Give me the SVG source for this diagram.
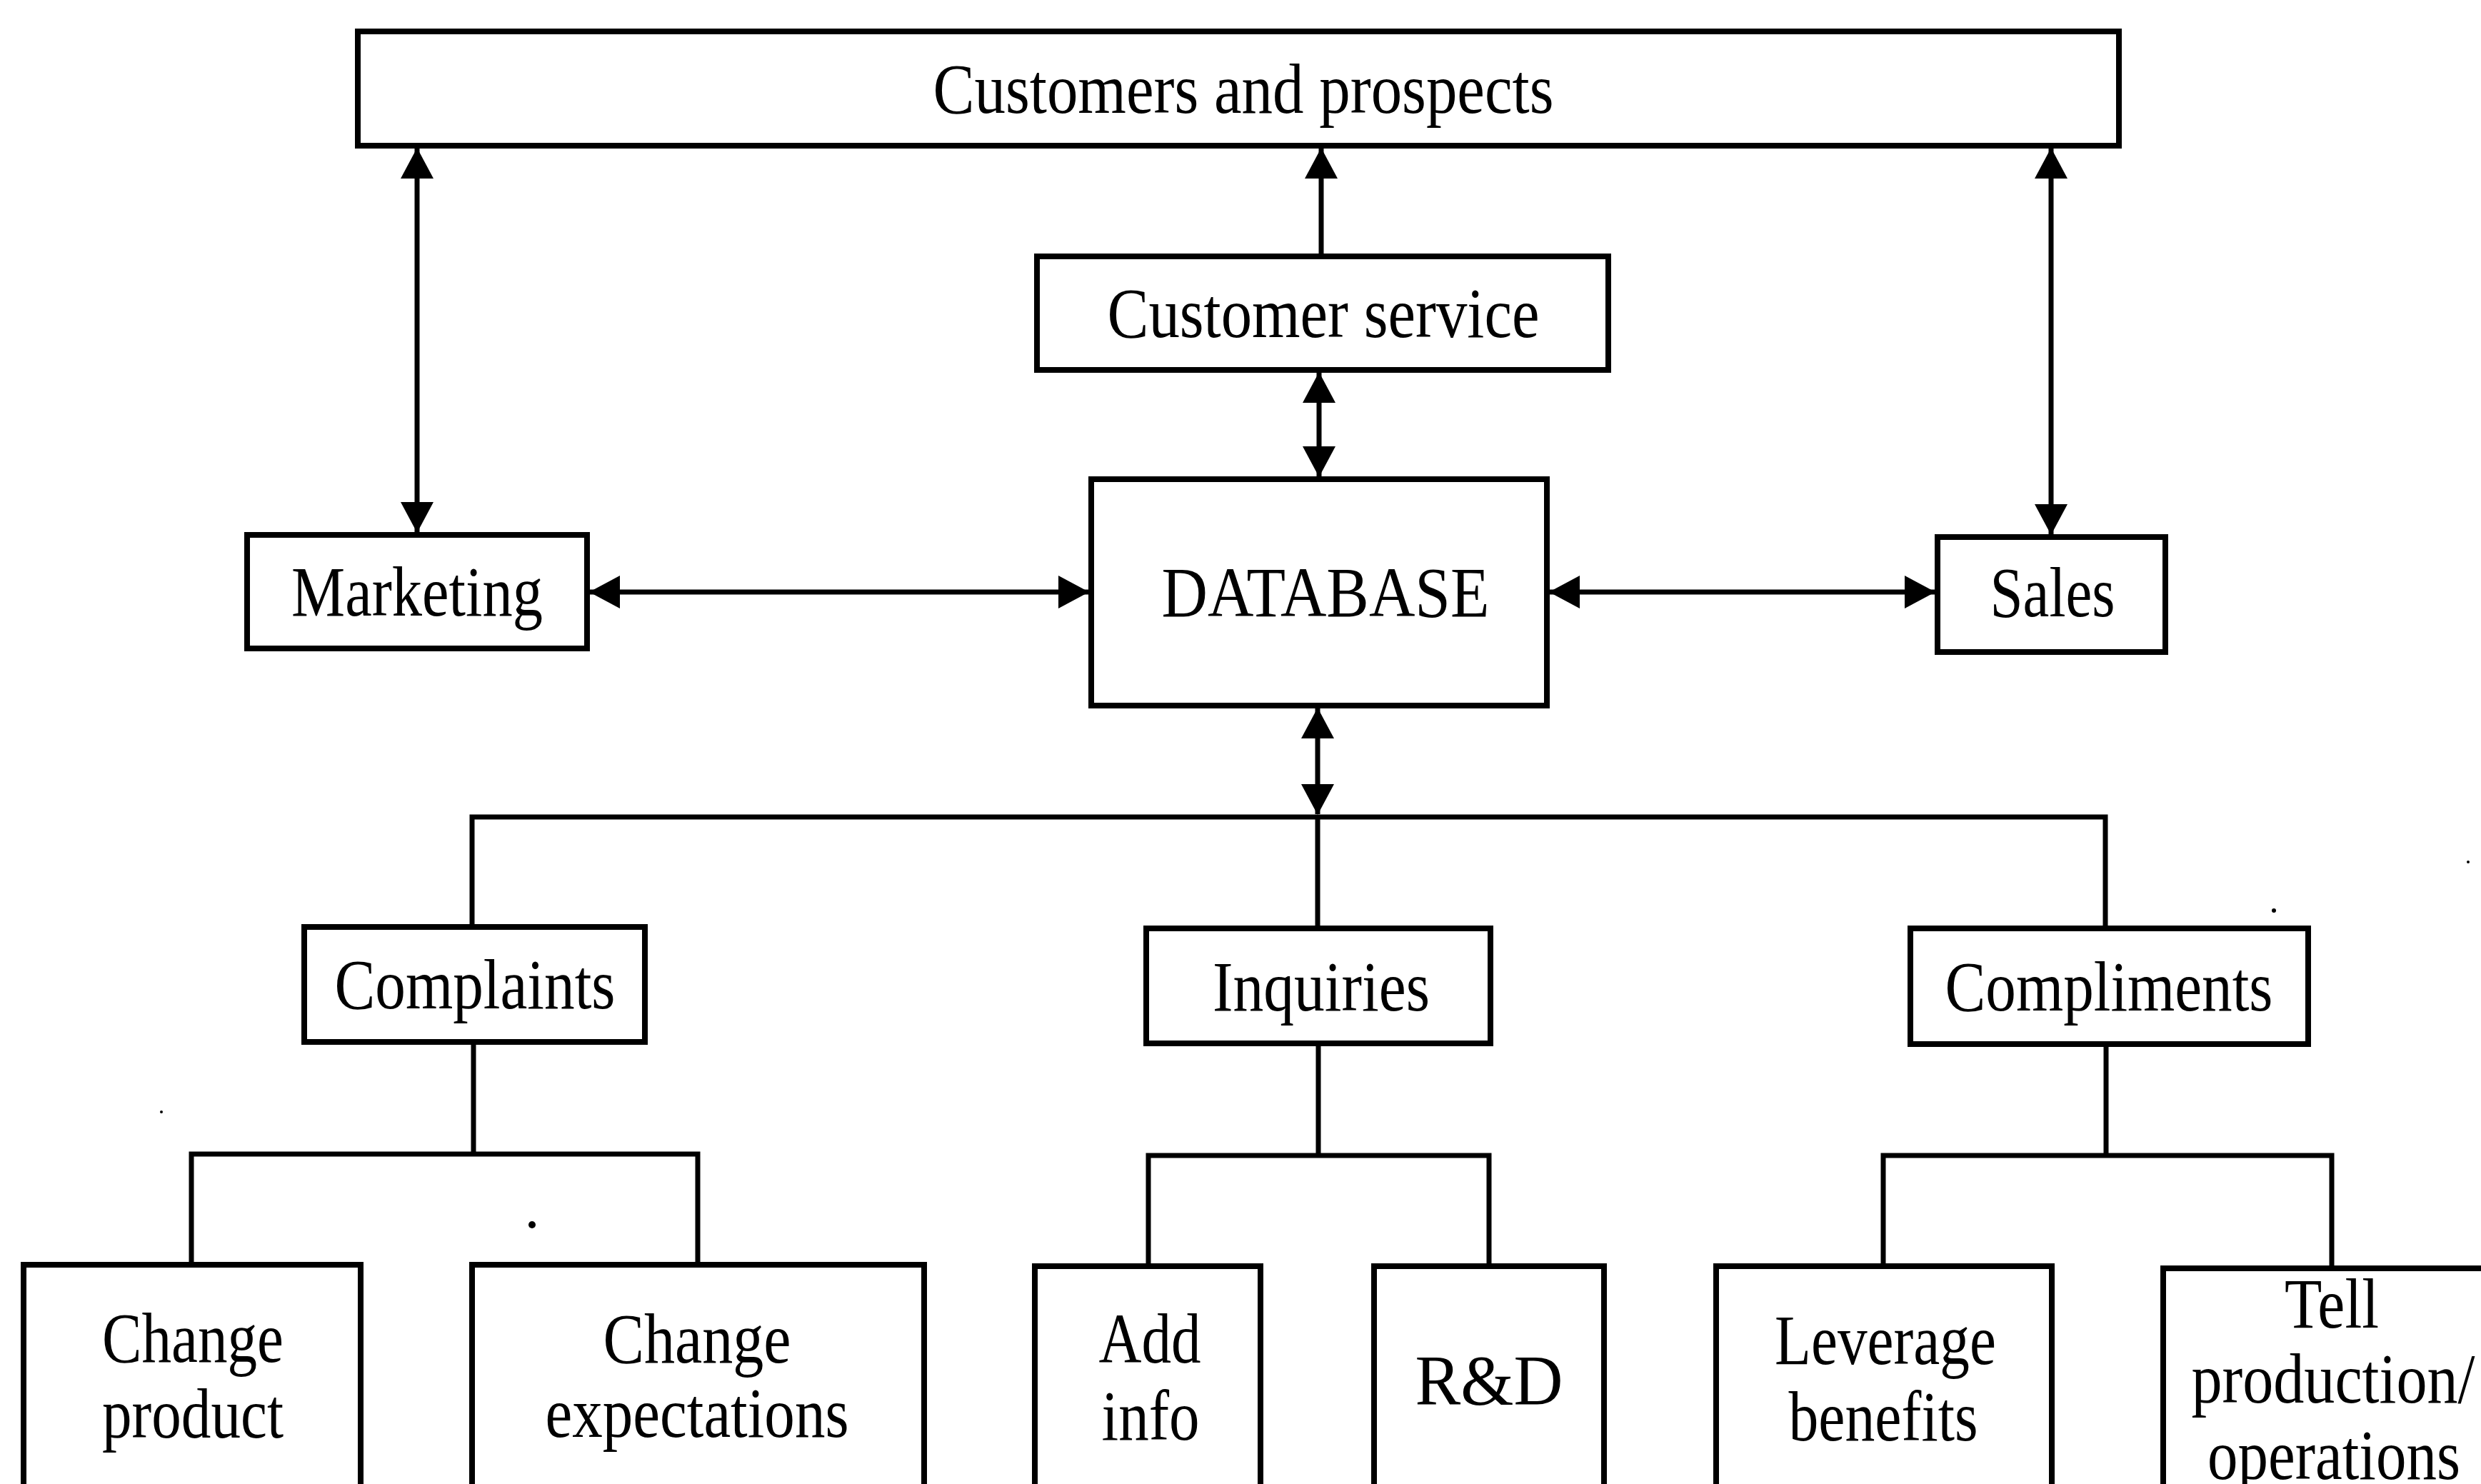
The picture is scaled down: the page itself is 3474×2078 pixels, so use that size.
<svg xmlns="http://www.w3.org/2000/svg" width="3474" height="2078" viewBox="0 0 3474 2078">
<style>
  .box { fill: #ffffff; stroke: #000000; stroke-width: 8; }
  .ln { fill: none; stroke: #000000; stroke-width: 7; }
  .t { font-family: "Liberation Serif", "Times New Roman", serif; font-size: 100px; fill: #000000; text-anchor: middle; }
</style>
<defs>
  <marker id="ah" markerUnits="userSpaceOnUse" markerWidth="46" markerHeight="48" refX="42" refY="24" orient="auto-start-reverse" viewBox="0 0 46 48">
    <path d="M0,1 L43,24 L0,47 Z" fill="#000000"/>
  </marker>
</defs>
<rect width="3474" height="2078" fill="#ffffff"/>

<g id="connectors">
  <line class="ln" x1="584" y1="208" x2="584" y2="745" marker-start="url(#ah)" marker-end="url(#ah)"/>
  <line class="ln" x1="1850" y1="355" x2="1850" y2="208" marker-end="url(#ah)"/>
  <line class="ln" x1="1847" y1="522" x2="1847" y2="667" marker-start="url(#ah)" marker-end="url(#ah)"/>
  <line class="ln" x1="2872" y1="208" x2="2872" y2="748" marker-start="url(#ah)" marker-end="url(#ah)"/>
  <line class="ln" x1="826" y1="829" x2="1524" y2="829" marker-start="url(#ah)" marker-end="url(#ah)"/>
  <line class="ln" x1="2170" y1="829" x2="2709" y2="829" marker-start="url(#ah)" marker-end="url(#ah)"/>
  <line class="ln" x1="1845" y1="992" x2="1845" y2="1140" marker-start="url(#ah)" marker-end="url(#ah)"/>
  <path class="ln" d="M661,1298 V1144 H2948 V1300"/>
  <line class="ln" x1="1845" y1="1144" x2="1845" y2="1300"/>
  <path class="ln" d="M268,1771 V1616 H977 V1771"/>
  <line class="ln" x1="663" y1="1459" x2="663" y2="1616"/>
  <path class="ln" d="M1608,1773 V1618 H2085 V1773"/>
  <line class="ln" x1="1846" y1="1461" x2="1846" y2="1618"/>
  <path class="ln" d="M2637,1773 V1618 H3265 V1776"/>
  <line class="ln" x1="2949" y1="1462" x2="2949" y2="1618"/>
</g>

<g id="customers">
  <rect class="box" x="501" y="44" width="2466" height="160"/>
  <text class="t" x="1741" y="158" textLength="869" lengthAdjust="spacingAndGlyphs">Customers and prospects</text>
</g>
<g id="customer-service">
  <rect class="box" x="1452" y="359" width="800" height="159"/>
  <text class="t" x="1853" y="472" textLength="605" lengthAdjust="spacingAndGlyphs">Customer service</text>
</g>
<g id="database">
  <rect class="box" x="1528" y="671" width="638" height="317"/>
  <text class="t" x="1856" y="863" textLength="459" lengthAdjust="spacingAndGlyphs">DATABASE</text>
</g>
<g id="marketing">
  <rect class="box" x="346" y="749" width="476" height="159"/>
  <text class="t" x="584" y="862" textLength="352" lengthAdjust="spacingAndGlyphs">Marketing</text>
</g>
<g id="sales">
  <rect class="box" x="2713" y="752" width="319" height="161"/>
  <text class="t" x="2874" y="863" textLength="175" lengthAdjust="spacingAndGlyphs">Sales</text>
</g>
<g id="complaints">
  <rect class="box" x="426" y="1298" width="477" height="161"/>
  <text class="t" x="665" y="1412" textLength="393" lengthAdjust="spacingAndGlyphs">Complaints</text>
</g>
<g id="inquiries">
  <rect class="box" x="1605" y="1300" width="482" height="161"/>
  <text class="t" x="1850" y="1415" textLength="304" lengthAdjust="spacingAndGlyphs">Inquiries</text>
</g>
<g id="compliments">
  <rect class="box" x="2675" y="1300" width="557" height="162"/>
  <text class="t" x="2953" y="1415" textLength="459" lengthAdjust="spacingAndGlyphs">Compliments</text>
</g>
<g id="change-product">
  <rect class="box" x="33" y="1771" width="472" height="340"/>
  <text class="t" x="270" y="1907" textLength="254" lengthAdjust="spacingAndGlyphs">Change</text>
  <text class="t" x="270" y="2013" textLength="254" lengthAdjust="spacingAndGlyphs">product</text>
</g>
<g id="change-expectations">
  <rect class="box" x="661" y="1771" width="633" height="340"/>
  <text class="t" x="976" y="1908" textLength="263" lengthAdjust="spacingAndGlyphs">Change</text>
  <text class="t" x="976" y="2012" textLength="425" lengthAdjust="spacingAndGlyphs">expectations</text>
</g>
<g id="add-info">
  <rect class="box" x="1449" y="1773" width="316" height="340"/>
  <text class="t" x="1610" y="1908" textLength="143" lengthAdjust="spacingAndGlyphs">Add</text>
  <text class="t" x="1611" y="2016" textLength="137" lengthAdjust="spacingAndGlyphs">info</text>
</g>
<g id="rnd">
  <rect class="box" x="1924" y="1773" width="322" height="340"/>
  <text class="t" x="2085" y="1966" font-size="112" textLength="207" lengthAdjust="spacingAndGlyphs">R&amp;D</text>
</g>
<g id="leverage-benefits">
  <rect class="box" x="2403" y="1773" width="470" height="340"/>
  <text class="t" x="2640" y="1910" textLength="310" lengthAdjust="spacingAndGlyphs">Leverage</text>
  <text class="t" x="2637" y="2017" textLength="265" lengthAdjust="spacingAndGlyphs">benefits</text>
</g>
<g id="tell-production">
  <rect class="box" x="3029" y="1776" width="480" height="340"/>
  <text class="t" x="3265" y="1859" textLength="132" lengthAdjust="spacingAndGlyphs">Tell</text>
  <text class="t" x="3267" y="1964" textLength="397" lengthAdjust="spacingAndGlyphs">production/</text>
  <text class="t" x="3268" y="2071" textLength="354" lengthAdjust="spacingAndGlyphs">operations</text>
</g>

<g id="specks" fill="#000000">
  <circle cx="745" cy="1715" r="5"/>
  <circle cx="226" cy="1557" r="2"/>
  <circle cx="3184" cy="1275" r="3"/>
  <circle cx="3456" cy="1207" r="2"/>
</g>
</svg>
